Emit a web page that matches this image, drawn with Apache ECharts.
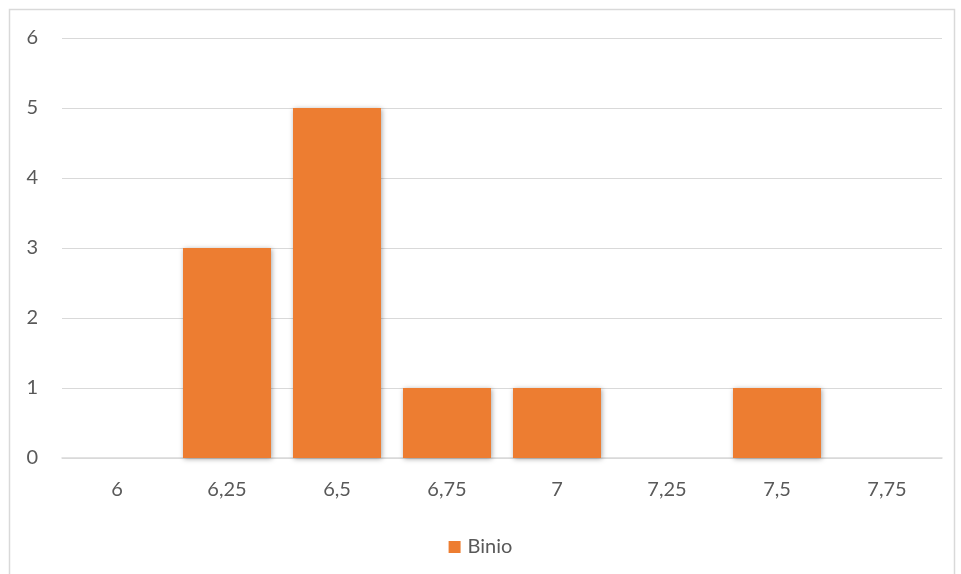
<!DOCTYPE html>
<html><head><meta charset="utf-8">
<script src="https://cdn.jsdelivr.net/npm/echarts@6/dist/echarts.min.js"></script>
<style>html,body{margin:0;padding:0;background:#fff}#c{width:961px;height:574px}</style>
</head><body><div id="c"></div>
<script>
const categories = ['6','6,25','6,5','6,75','7','7,25','7,5','7,75'];
const binio = [0,3,5,1,1,0,1,0];
const yTicks = [0,1,2,3,4,5,6];
const seriesName = 'Binio';

const chart = echarts.init(document.getElementById('c'));
const font = 'Lato, "Noto Sans", sans-serif';
chart.setOption({
  animation:false,
  graphic:[{type:'rect',shape:{x:9.5,y:9.5,width:945,height:580},style:{fill:'none',stroke:'#D9D9D9',lineWidth:1.5},silent:true}],
  grid:{left:62,right:19,top:38,bottom:116,containLabel:false},
  legend:{top:532,left:'center',itemWidth:12,itemHeight:12,itemGap:4,icon:'rect',
    textStyle:{color:'#595959',fontSize:20,fontFamily:font,padding:[0,0,0,2]},data:[seriesName]},
  xAxis:{type:'category',data:categories,axisTick:{show:false},
    axisLine:{lineStyle:{color:'#D9D9D9',width:1.5}},
    axisLabel:{color:'#595959',fontSize:20,fontFamily:font,margin:22}},
  yAxis:{type:'value',min:yTicks[0],max:yTicks[yTicks.length-1],interval:1,
    axisLine:{show:false},axisTick:{show:false},
    splitLine:{lineStyle:{color:'#D9D9D9',width:1}},
    axisLabel:{color:'#595959',fontSize:20,fontFamily:font,margin:24}},
  series:[{name:seriesName,type:'bar',data:binio,barCategoryGap:'20%',
    itemStyle:{color:'#ED7D31',shadowBlur:5,shadowColor:'rgba(0,0,0,0.35)',shadowOffsetX:1,shadowOffsetY:1}}]
});
</script></body></html>
